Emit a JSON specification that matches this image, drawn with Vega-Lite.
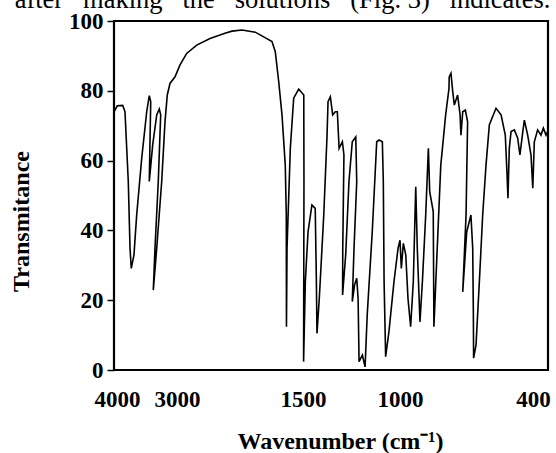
{
  "$schema": "https://vega.github.io/schema/vega-lite/v6.json",
  "width": 434,
  "height": 349,
  "autosize": {"type": "none"},
  "padding": {"left": 114, "top": 21, "right": 8, "bottom": 83},
  "background": "white",
  "title": {
    "text": "e\u00a0\u00a0\u00a0after\u00a0\u00a0\u00a0making\u00a0\u00a0\u00a0the\u00a0\u00a0\u00a0solutions\u00a0\u00a0\u00a0(Fig. 3)\u00a0\u00a0\u00a0indicates.",
    "anchor": "start",
    "orient": "top",
    "offset": -24,
    "baseline": "alphabetic",
    "dx": -26,
    "font": "Liberation Serif",
    "fontSize": 26.5,
    "fontWeight": "normal",
    "color": "black"
  },
  "config": {
    "view": {"stroke": "black", "strokeWidth": 2.2},
    "axis": {
      "labelFont": "Liberation Serif",
      "labelFontWeight": "bold",
      "labelFontSize": 23,
      "labelColor": "black",
      "titleFont": "Liberation Serif",
      "titleFontWeight": "bold",
      "titleFontSize": 24,
      "titleColor": "black",
      "grid": false,
      "domain": false
    }
  },
  "data": {
    "values": [
      {"i":1,"w":4050,"t":74.0},{"i":2,"w":3995,"t":75.7},{"i":3,"w":3905,"t":75.8},{"i":4,"w":3867,"t":74.0},
      {"i":5,"w":3812,"t":54.0},{"i":6,"w":3783,"t":34.9},{"i":7,"w":3762,"t":29.1},{"i":8,"w":3717,"t":33.0},
      {"i":9,"w":3672,"t":44.4},{"i":10,"w":3588,"t":60.7},{"i":11,"w":3505,"t":74.0},{"i":12,"w":3462,"t":78.6},
      {"i":13,"w":3438,"t":76.9},{"i":14,"w":3462,"t":54.0},{"i":15,"w":3405,"t":64.5},{"i":16,"w":3338,"t":73.1},
      {"i":17,"w":3295,"t":74.8},{"i":18,"w":3272,"t":73.1},{"i":19,"w":3312,"t":54.0},{"i":20,"w":3367,"t":34.9},
      {"i":21,"w":3395,"t":22.9},{"i":22,"w":3338,"t":34.9},{"i":23,"w":3255,"t":54.0},{"i":24,"w":3200,"t":71.1},
      {"i":25,"w":3162,"t":78.8},{"i":26,"w":3117,"t":82.1},{"i":27,"w":3033,"t":84.0},{"i":28,"w":2964,"t":87.4},
      {"i":29,"w":2885,"t":90.7},{"i":30,"w":2765,"t":93.1},{"i":31,"w":2607,"t":95.0},{"i":32,"w":2429,"t":96.5},
      {"i":33,"w":2345,"t":97.1},{"i":34,"w":2226,"t":97.4},{"i":35,"w":2068,"t":96.8},{"i":36,"w":1869,"t":94.1},
      {"i":37,"w":1830,"t":91.2},{"i":38,"w":1789,"t":82.6},{"i":39,"w":1750,"t":73.1},{"i":40,"w":1711,"t":58.7},
      {"i":41,"w":1699,"t":44.4},{"i":42,"w":1697,"t":12.4},{"i":43,"w":1690,"t":35.0},{"i":44,"w":1651,"t":63.5},
      {"i":45,"w":1611,"t":77.9},{"i":46,"w":1551,"t":80.5},{"i":47,"w":1496,"t":78.8},{"i":48,"w":1495,"t":54.0},
      {"i":49,"w":1497,"t":2.4},{"i":50,"w":1488,"t":25.3},{"i":51,"w":1474,"t":39.6},{"i":52,"w":1454,"t":47.3},
      {"i":53,"w":1437,"t":46.3},{"i":54,"w":1431,"t":25.3},{"i":55,"w":1428,"t":10.5},{"i":56,"w":1416,"t":20.5},
      {"i":57,"w":1393,"t":44.4},{"i":58,"w":1376,"t":67.3},{"i":59,"w":1371,"t":76.9},{"i":60,"w":1359,"t":78.3},
      {"i":61,"w":1347,"t":73.1},{"i":62,"w":1333,"t":74.0},{"i":63,"w":1323,"t":74.0},{"i":64,"w":1314,"t":63.5},
      {"i":65,"w":1297,"t":65.4},{"i":66,"w":1289,"t":61.6},{"i":67,"w":1295,"t":34.9},{"i":68,"w":1296,"t":21.5},
      {"i":69,"w":1280,"t":33.0},{"i":70,"w":1263,"t":54.0},{"i":71,"w":1246,"t":65.4},{"i":72,"w":1228,"t":66.8},
      {"i":73,"w":1223,"t":54.0},{"i":74,"w":1237,"t":34.9},{"i":75,"w":1246,"t":19.6},{"i":76,"w":1234,"t":24.4},
      {"i":77,"w":1223,"t":26.3},{"i":78,"w":1216,"t":20.5},{"i":79,"w":1211,"t":2.4},{"i":80,"w":1194,"t":4.3},
      {"i":81,"w":1180,"t":0.9},{"i":82,"w":1169,"t":15.8},{"i":83,"w":1143,"t":39.6},{"i":84,"w":1120,"t":65.4},
      {"i":85,"w":1108,"t":65.9},{"i":86,"w":1091,"t":65.4},{"i":87,"w":1086,"t":54.0},{"i":88,"w":1082,"t":25.3},
      {"i":89,"w":1074,"t":3.8},{"i":90,"w":1057,"t":11.0},{"i":91,"w":1031,"t":25.3},{"i":92,"w":1010,"t":34.9},
      {"i":93,"w":1000,"t":37.2},{"i":94,"w":994,"t":29.1},{"i":95,"w":985,"t":36.3},{"i":96,"w":974,"t":33.0},
      {"i":97,"w":964,"t":20.5},{"i":98,"w":952,"t":12.4},{"i":99,"w":940,"t":25.3},{"i":100,"w":929,"t":52.5},
      {"i":101,"w":922,"t":34.9},{"i":102,"w":910,"t":13.8},{"i":103,"w":899,"t":25.3},{"i":104,"w":884,"t":44.4},
      {"i":105,"w":872,"t":63.5},{"i":106,"w":866,"t":51.1},{"i":107,"w":850,"t":45.4},{"i":108,"w":847,"t":12.4},
      {"i":109,"w":832,"t":34.9},{"i":110,"w":816,"t":58.7},{"i":111,"w":794,"t":73.1},{"i":112,"w":779,"t":80.7},
      {"i":113,"w":778,"t":84.0},{"i":114,"w":770,"t":85.0},{"i":115,"w":762,"t":79.7},{"i":116,"w":755,"t":75.9},
      {"i":117,"w":740,"t":78.8},{"i":118,"w":729,"t":73.1},{"i":119,"w":725,"t":67.3},{"i":120,"w":717,"t":74.0},
      {"i":121,"w":705,"t":74.5},{"i":122,"w":695,"t":71.1},{"i":123,"w":702,"t":44.4},{"i":124,"w":717,"t":22.4},
      {"i":125,"w":699,"t":39.6},{"i":126,"w":680,"t":44.4},{"i":127,"w":672,"t":34.9},{"i":128,"w":669,"t":15.8},
      {"i":129,"w":668,"t":3.4},{"i":130,"w":657,"t":7.2},{"i":131,"w":642,"t":25.3},{"i":132,"w":627,"t":44.4},
      {"i":133,"w":612,"t":58.7},{"i":134,"w":597,"t":70.2},{"i":135,"w":567,"t":75.0},{"i":136,"w":544,"t":73.1},
      {"i":137,"w":525,"t":67.3},{"i":138,"w":517,"t":55.9},{"i":139,"w":513,"t":49.2},{"i":140,"w":507,"t":63.5},
      {"i":141,"w":499,"t":68.3},{"i":142,"w":484,"t":68.8},{"i":143,"w":469,"t":66.4},{"i":144,"w":459,"t":61.6},
      {"i":145,"w":446,"t":68.3},{"i":146,"w":439,"t":71.6},{"i":147,"w":424,"t":67.3},{"i":148,"w":409,"t":61.6},
      {"i":149,"w":401,"t":52.1},{"i":150,"w":394,"t":65.4},{"i":151,"w":379,"t":68.8},{"i":152,"w":364,"t":67.3},
      {"i":153,"w":353,"t":69.3},{"i":154,"w":341,"t":67.3},{"i":155,"w":332,"t":68.5}
    ]
  },
  "mark": {"type": "line", "color": "black", "strokeWidth": 1.6, "clip": true},
  "encoding": {
    "x": {
      "field": "w",
      "type": "quantitative",
      "scale": {
        "domain": [4050, 4000, 3000, 1500, 1000, 400, 332],
        "range": [0, 3, 63, 189, 286, 419, 434],
        "nice": false,
        "zero": false
      },
      "axis": {
        "values": [4000, 3000, 1500, 1000, 400],
        "format": "d",
        "ticks": false,
        "labelPadding": 18,
        "labelFlush": false,
        "labelOverlap": false,
        "title": "Wavenumber (cm\u207b\u00b9)",
        "titleX": 226,
        "titleY": 59,
        "titleBaseline": "top"
      }
    },
    "y": {
      "field": "t",
      "type": "quantitative",
      "scale": {"domain": [0, 100], "nice": false},
      "axis": {
        "values": [0, 20, 40, 60, 80, 100],
        "format": "d",
        "ticks": true,
        "tickSize": 7,
        "tickColor": "black",
        "tickWidth": 1.5,
        "labelPadding": 4,
        "title": "Transmitance",
        "titleX": -93,
        "titleY": 200,
        "titleAngle": -90,
        "titleAlign": "center",
        "titleBaseline": "middle"
      }
    },
    "order": {"field": "i", "type": "quantitative"}
  }
}
